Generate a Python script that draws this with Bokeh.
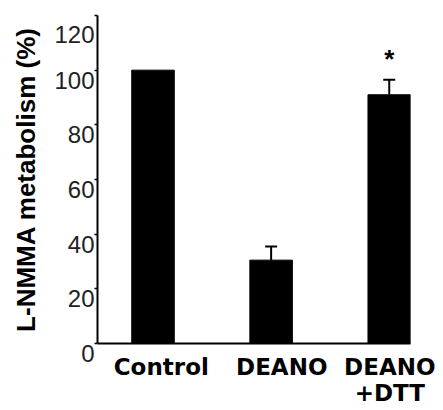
from bokeh.plotting import figure
from bokeh.models import Range1d, FixedTicker, ColumnDataSource, Whisker, TeeHead, Label
from bokeh.embed import file_html
from bokeh.resources import INLINE

categories = ["Control", "DEANO", "DEANO\n+DTT"]
values = [100, 30.5, 91]
errors = [0, 5, 5.5]
y_ticks = [0, 20, 40, 60, 80, 100, 120]
y_tick_labels = ["0", "20", "40", "60", "80", "100", "120"]
y_title = "L-NMMA metabolism (%)"

xs = [1, 2, 3]
upper = [v + e for v, e in zip(values, errors)]

p = figure(width=435, height=410, output_backend="svg", toolbar_location=None,
           x_range=Range1d(0.53, 3.18), y_range=Range1d(0, 120),
           min_border_left=97, min_border_right=25, min_border_top=15, min_border_bottom=67)
p.background_fill_color = "white"
p.border_fill_color = "white"
p.outline_line_color = None
p.grid.visible = False

src = ColumnDataSource(dict(x=xs, top=values))
p.vbar(x="x", top="top", width=0.36, source=src, fill_color="black", line_color="black")

err_src = ColumnDataSource(dict(x=xs[1:], lower=values[1:], upper=upper[1:]))
w = Whisker(base="x", lower="lower", upper="upper", source=err_src, dimension="height",
            line_color="black", line_width=2,
            upper_head=TeeHead(size=12, line_color="black", line_width=2), lower_head=None)
p.add_layout(w)

p.add_layout(Label(x=3, y=104, text="*", text_font="Liberation Sans",
                   text_font_style="bold", text_font_size="26px", text_align="center",
                   text_baseline="middle", text_color="black"))

# y axis (labels sit just below their tick, as in the reference)
ya = p.yaxis[0]
ya.ticker = FixedTicker(ticks=y_ticks)
ya.major_label_overrides = {t: "\n" + lab for t, lab in zip(y_ticks, y_tick_labels)}
ya.major_label_text_line_height = 0.75
ya.minor_tick_line_color = None
ya.major_tick_in = 0
ya.major_tick_out = 3
ya.major_tick_line_width = 1.5
ya.axis_line_width = 2
ya.major_label_standoff = 0
ya.major_label_text_font = "Liberation Sans"
ya.major_label_text_font_size = "24px"
ya.major_label_text_color = "#222222"
ya.axis_label = y_title
ya.axis_label_text_font = "Liberation Sans"
ya.axis_label_text_font_style = "bold"
ya.axis_label_text_font_size = "26px"
ya.axis_label_text_color = "black"
ya.axis_label_standoff = 10

# x axis
xa = p.xaxis[0]
label_pos = [1.07, 2.09, 3.02]
xa.ticker = FixedTicker(ticks=label_pos)
xa.major_label_overrides = {t: c for t, c in zip(label_pos, categories)}
xa.major_tick_line_color = None
xa.minor_tick_line_color = None
xa.axis_line_width = 2
xa.major_label_standoff = 4
xa.major_label_text_line_height = 1.0
xa.major_label_text_font = "DejaVu Sans"
xa.major_label_text_font_style = "bold"
xa.major_label_text_font_size = "23px"
xa.major_label_text_color = "black"

open("out.html", "w").write(file_html(p, INLINE))
